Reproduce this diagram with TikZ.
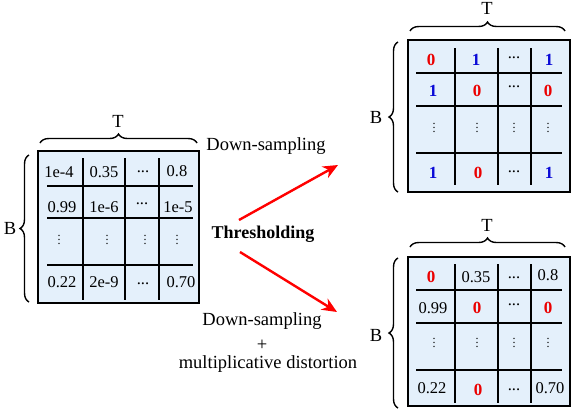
\documentclass[tikz,border=0pt]{standalone}
\usepackage{fontspec}
\setmainfont{Liberation Serif}
\usetikzlibrary{arrows.meta,decorations.pathreplacing}
\definecolor{boxfill}{RGB}{228,240,251}
\definecolor{zred}{RGB}{235,0,0}
\definecolor{oblue}{RGB}{10,10,215}
\tikzset{
  matbox/.style={draw=black, line width=1.6pt, fill=boxfill, inner sep=0pt},
  gridline/.style={line width=1.3pt, black},
  cell/.style={inner sep=0pt, font=\fontsize{16.5}{18}\selectfont},
  vd/.style={inner sep=0pt, font=\fontsize{12}{12}\selectfont},
  zero/.style={cell, text=zred, font=\fontsize{17}{18}\selectfont\bfseries},
  one/.style={cell, text=oblue, font=\fontsize{17}{18}\selectfont\bfseries},
  lbl/.style={inner sep=0pt, font=\fontsize{18.5}{20}\selectfont},
  brc/.style={decorate, decoration={brace, amplitude=9pt}, line width=1.4pt},
  redarrow/.style={draw=red, line width=2.4pt, -{Stealth[length=15pt,width=13pt]}}
}
\begin{document}
\begin{tikzpicture}[x=1pt,y=-1pt]
\useasboundingbox (0,0) rectangle (572,408);

% ---------- left matrix ----------
\node[matbox, minimum width=161pt, minimum height=152pt] (L) at (118.5,227) {};
\foreach \yy in {186,218,265} \draw[gridline] (47,\yy) -- (193,\yy);
\foreach \xx in {83,125,159} \draw[gridline] (\xx,158) -- (\xx,300);
\node[cell] (l11) at (59,172) {1e-4};
\node[cell] (l12) at (104,172) {0.35};
\node[cell] (l13) at (143,172) {...};
\node[cell] (l14) at (177,171) {0.8};
\node[cell] (l21) at (62,207) {0.99};
\node[cell] (l22) at (104,207) {1e-6};
\node[cell] (l23) at (142,204) {...};
\node[cell] (l24) at (178,207) {1e-5};
\node[vd] (l31) at (59,237) {$\vdots$};
\node[vd] (l32) at (107,237) {$\vdots$};
\node[vd] (l33) at (145,237) {$\vdots$};
\node[vd] (l34) at (177,237) {$\vdots$};
\node[cell] (l41) at (62,282) {0.22};
\node[cell] (l42) at (104,282) {2e-9};
\node[cell] (l43) at (143,284) {...};
\node[cell] (l44) at (181,282) {0.70};
\draw[brc] (40,143) -- (197,143);
\node[lbl] (lT) at (118,121) {T};
\draw[brc] (29,302) -- (29,155);
\node[lbl] (lB) at (10,228) {B};

% ---------- top-right matrix ----------
\node[matbox, minimum width=162pt, minimum height=152pt] (R1) at (489,116) {};
\foreach \yy in {73,106,153} \draw[gridline] (416,\yy) -- (562,\yy);
\foreach \xx in {455,498,531} \draw[gridline] (\xx,48) -- (\xx,185);
\node[zero] (a11) at (431,60) {0};
\node[one]  (a12) at (476,60) {1};
\node[cell] (a13) at (514,58) {...};
\node[one]  (a14) at (549,60) {1};
\node[one]  (a21) at (433,91) {1};
\node[zero] (a22) at (477,91) {0};
\node[cell] (a23) at (514,87) {...};
\node[zero] (a24) at (548,91) {0};
\node[vd] (a31) at (434,125) {$\vdots$};
\node[vd] (a32) at (477,125) {$\vdots$};
\node[vd] (a33) at (514,125) {$\vdots$};
\node[vd] (a34) at (548,125) {$\vdots$};
\node[one]  (a41) at (433,173) {1};
\node[zero] (a42) at (478,173) {0};
\node[cell] (a43) at (514,172) {...};
\node[one]  (a44) at (549,173) {1};
\draw[brc] (410,31) -- (565,31);
\node[lbl] (aT) at (487,8) {T};
\draw[brc] (398,192) -- (398,42);
\node[lbl] (aB) at (376,117) {B};

% ---------- bottom-right matrix ----------
\node[matbox, minimum width=162pt, minimum height=149pt] (R2) at (489,331.5) {};
\foreach \yy in {290,323,370} \draw[gridline] (416,\yy) -- (562,\yy);
\foreach \xx in {455,498,531} \draw[gridline] (\xx,264) -- (\xx,403);
\node[zero] (b11) at (431,277) {0};
\node[cell] (b12) at (476,277) {0.35};
\node[cell] (b13) at (514,278) {...};
\node[cell] (b14) at (548,275) {0.8};
\node[cell] (b21) at (433,308) {0.99};
\node[zero] (b22) at (477,308) {0};
\node[cell] (b23) at (514,305) {...};
\node[zero] (b24) at (548,308) {0};
\node[vd] (b31) at (434,340) {$\vdots$};
\node[vd] (b32) at (477,340) {$\vdots$};
\node[vd] (b33) at (514,340) {$\vdots$};
\node[vd] (b34) at (548,340) {$\vdots$};
\node[cell] (b41) at (432,388) {0.22};
\node[zero] (b42) at (478,390) {0};
\node[cell] (b43) at (514,390) {...};
\node[cell] (b44) at (550,388) {0.70};
\draw[brc] (410,247) -- (565,247);
\node[lbl] (bT) at (487,225) {T};
\draw[brc] (398,408) -- (398,258);
\node[lbl] (bB) at (376,335) {B};

% ---------- middle labels and arrows ----------
\node[lbl] (ds1) at (266,146) {Down-sampling};
\node[lbl, font=\fontsize{18}{20}\selectfont\bfseries] (thr) at (263,234) {Thresholding};
\node[lbl] (ds2) at (262,321) {Down-sampling};
\node[lbl] (plus) at (262,345) {+};
\node[lbl] (md) at (268,364) {multiplicative distortion};
\coordinate (s1) at (239,220);
\coordinate (e1) at (338,165);
\coordinate (s2) at (240,252);
\coordinate (e2) at (337,312);
\draw[redarrow] (s1) -- (e1);
\draw[redarrow] (s2) -- (e2);
\end{tikzpicture}
\end{document}
